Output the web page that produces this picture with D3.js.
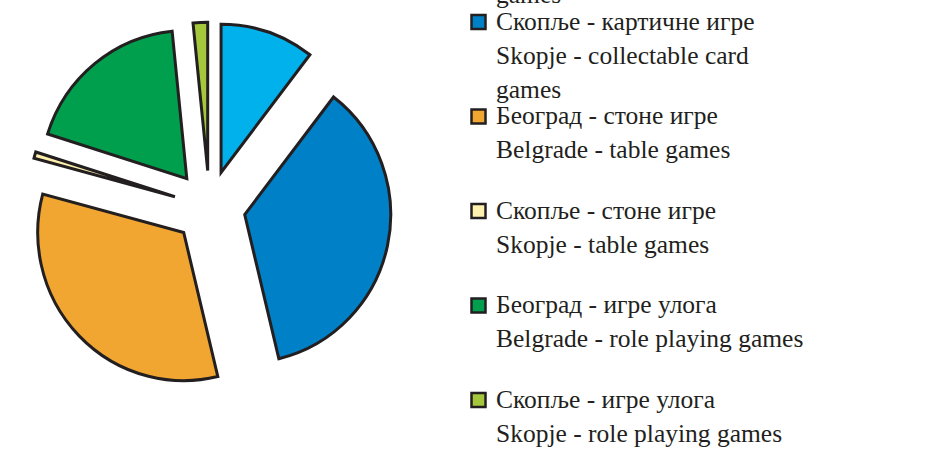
<!DOCTYPE html>
<html>
<head>
<meta charset="utf-8">
<script src="https://cdn.jsdelivr.net/npm/d3@7"></script>
<style>
  body { margin: 0; background: #fff; }
  svg { display: block; }
</style>
</head>
<body>
<div id="chart"></div>
<script>
// data
const labelsSr = ["Београд - картичне игре", "Скопље - картичне игре", "Београд - стоне игре",
                  "Скопље - стоне игре", "Београд - игре улога", "Скопље - игре улога"];
const labelsEn = [["Belgrade - collectable card", "games"], ["Skopje - collectable card", "games"],
                  ["Belgrade - table games"], ["Skopje - table games"],
                  ["Belgrade - role playing games"], ["Skopje - role playing games"]];
const values = [10.4, 35.8, 32.9, 0.7, 18.5, 1.6];
const colors = ["#00b1ec", "#0080c6", "#f0a630", "#fdf1ad", "#009f4d", "#a5c73c"];

const w = 926, h = 462;
const svg = d3.select("#chart").append("svg")
  .attr("width", w)
  .attr("height", h);

// pie
const cx = 209.5, cy = 207, r = 146, explode = 36;
const pie = d3.pie().sort(null).value(d => d)(values);
const arc = d3.arc().innerRadius(0).outerRadius(r);

const g = svg.append("g")
  .attr("transform", `translate(${cx}, ${cy}) scale(1, 1.015)`);

g.selectAll("path")
  .data(pie)
  .enter()
  .append("path")
    .attr("transform", d => {
      const a = (d.startAngle + d.endAngle) / 2;
      return `translate(${explode * Math.sin(a)}, ${-explode * Math.cos(a)})`;
    })
    .attr("d", arc)
    .attr("fill", (d, i) => colors[i])
    .attr("stroke", "#231f20")
    .attr("stroke-width", 3)
    .attr("stroke-linejoin", "miter");

// legend
const legX = 470, firstBase = -65, itemStep = 94.5, lineH = 34;
const leg = svg.append("g");

const items = leg.selectAll("g.item")
  .data(labelsSr)
  .enter()
  .append("g")
    .attr("class", "item")
    .attr("transform", (d, i) => `translate(${legX}, ${firstBase + i * itemStep})`);

items.append("rect")
  .attr("x", 1.5)
  .attr("y", -14.5)
  .attr("width", 14)
  .attr("height", 14)
  .attr("fill", (d, i) => colors[i])
  .attr("stroke", "#231f20")
  .attr("stroke-width", 2.5);

items.append("text")
  .attr("x", 26)
  .attr("y", 0)
  .style("font-family", '"Liberation Serif"')
  .style("font-size", "25.5px")
  .style("fill", "#231f20")
  .text(d => d);

items.each(function(d, i) {
  d3.select(this).selectAll("text.en")
    .data(labelsEn[i])
    .enter()
    .append("text")
      .attr("class", "en")
      .attr("x", 26)
      .attr("y", (t, j) => (j + 1) * lineH)
      .style("font-family", '"Liberation Serif"')
      .style("font-size", "25.5px")
      .style("fill", "#231f20")
      .text(t => t);
});
</script>
</body>
</html>
